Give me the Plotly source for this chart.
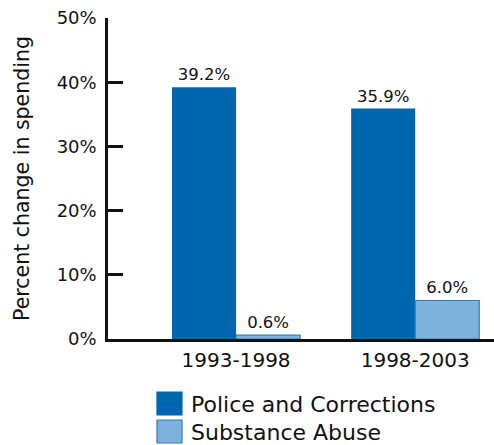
import plotly.graph_objects as go

categories = ["1993-1998", "1998-2003"]
series_names = ["Police and Corrections", "Substance Abuse"]
police = [39.2, 35.9]
substance = [0.6, 6.0]
y_ticks = [0, 10, 20, 30, 40, 50]
y_tick_labels = ["0%", "10%", "20%", "30%", "40%", "50%"]

dark = "#0066B0"
light = "#7EB2DA"
light_border = "#2A7DC0"
FONT = "DejaVu Sans"

fig = go.Figure()
fig.add_trace(go.Bar(
    x=categories, y=police, name=series_names[0],
    marker=dict(color=dark, line=dict(width=0)),
    texttemplate="%{y:.1f}%", textposition="outside",
    textfont=dict(family=FONT, size=16.5, color="#111"),
    cliponaxis=False, showlegend=False,
))
fig.add_trace(go.Bar(
    x=categories, y=substance, name=series_names[1],
    marker=dict(color=light, line=dict(width=1.2, color=light_border)),
    texttemplate="%{y:.1f}%", textposition="outside",
    textfont=dict(family=FONT, size=16.5, color="#111"),
    cliponaxis=False, showlegend=False,
))

W, H = 494, 445
L, R, T, B = 108, 0, 18, 106
pw, ph = W - L - R, H - T - B

def px_x(x):
    return (x - L) / pw

def px_y(y):
    return (H - B - y) / ph

# manual legend (large swatches)
legend_items = [(series_names[0], dark, dark, 392, 415, 404),
                (series_names[1], light, light_border, 420, 443, 432)]
for name, fill, border, y0, y1, yc in legend_items:
    fig.add_shape(type="rect", xref="paper", yref="paper",
                  x0=px_x(157), x1=px_x(182), y0=px_y(y1), y1=px_y(y0),
                  fillcolor=fill, line=dict(color=border, width=1.2))
    fig.add_annotation(xref="paper", yref="paper", x=px_x(189), y=px_y(yc),
                       text=name, showarrow=False, xanchor="left", yanchor="middle",
                       font=dict(family=FONT, size=22, color="#111"))

fig.update_layout(
    width=W, height=H,
    margin=dict(l=L, r=R, t=T, b=B, pad=0),
    paper_bgcolor="white", plot_bgcolor="white",
    barmode="group", bargap=0.285, bargroupgap=0,
    font=dict(family=FONT, color="#111"),
    xaxis=dict(
        range=[-0.715, 1.44], showline=True, linecolor="#111", linewidth=2.5,
        ticks="", showgrid=False, zeroline=False,
        tickfont=dict(family=FONT, size=20, color="#111"),
        ticklabelstandoff=1,
    ),
    yaxis=dict(
        range=[0, 50], tickvals=y_ticks, ticktext=y_tick_labels,
        showline=True, linecolor="#111", linewidth=2.5,
        ticks="inside", ticklen=15, tickwidth=2.5, tickcolor="#111",
        showgrid=False, zeroline=False,
        tickfont=dict(family=FONT, size=18, color="#111"),
        ticklabelstandoff=5,
        title=dict(text="Percent change in spending",
                   font=dict(family=FONT, size=20.5, color="#111"), standoff=22),
        automargin=False,
    ),
)

fig.write_html("out.html", config={"displayModeBar": False},
               post_script="document.body.style.margin='0';document.body.style.overflow='hidden';")
